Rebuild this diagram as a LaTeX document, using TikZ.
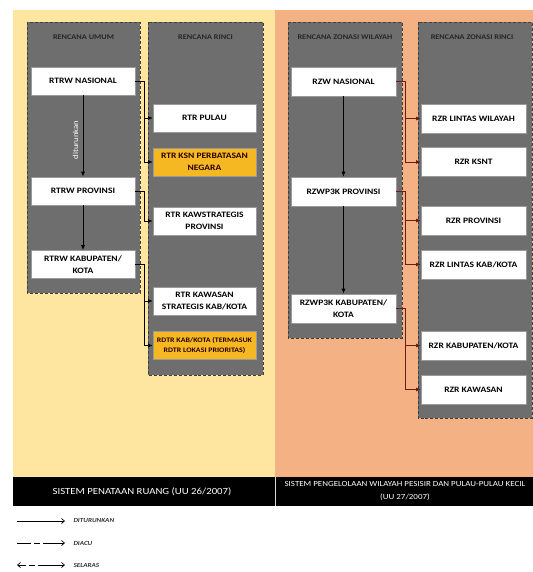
\documentclass[tikz,border=0pt]{standalone}
\usepackage{fontspec}
\setmainfont[FakeStretch=1.15]{Carlito}
\usetikzlibrary{arrows.meta}

\definecolor{bgyellow}{HTML}{FFE6A0}
\definecolor{bgorange}{HTML}{F4B183}
\definecolor{panelgray}{HTML}{6E6E6E}
\definecolor{paneledge}{HTML}{3F3F3F}
\definecolor{goldbox}{HTML}{F5B823}
\definecolor{linkred}{HTML}{6B1F12}
\definecolor{boxedge}{HTML}{9A9A9A}

\tikzset{
  panel/.style={fill=panelgray, draw=paneledge, densely dashed, line width=0.8pt},
  colhead/.style={font=\fontsize{7.2}{8}\selectfont\bfseries, text=black!85, align=center},
  plan/.style={rectangle, fill=white, draw=boxedge, line width=0.6pt, align=center,
    inner sep=1pt, font=\fontsize{8.3}{12}\selectfont\bfseries, text=black},
  planA/.style={plan, minimum width=104bp, minimum height=28bp},
  planB/.style={plan, minimum width=103bp, minimum height=28bp},
  planC/.style={plan, minimum width=105bp, minimum height=29bp},
  goldplan/.style={fill=goldbox, text=black!85!red},
  down/.style={draw=black, line width=0.8pt, -{Latex[length=5pt,width=4pt]}},
  linkblack/.style={draw=black, line width=0.7pt, -{Latex[length=4.5pt,width=4pt]}},
  linkdark/.style={draw=linkred, line width=0.8pt, -{Latex[length=4.5pt,width=4pt]}},
  legendline/.style={draw=black, line width=0.7pt},
  legendtext/.style={anchor=west, font=\fontsize{6.2}{7}\selectfont\itshape\bfseries, text=black!80},
  foottext/.style={text=white, align=center}
}

\begin{document}
\begin{tikzpicture}[x=1bp, y=-1bp]
  \useasboundingbox (0,0) rectangle (533,572);
  \fill[white] (0,0) rectangle (533,572);

  % two background areas
  \fill[bgyellow] (13,10) rectangle (275,477);
  \fill[bgorange] (275,10) rectangle (533,477);

  % grey column panels
  \draw[panel] (27,22) rectangle (140,293);
  \draw[panel] (148,22) rectangle (263,375);
  \draw[panel] (288,22) rectangle (402,338);
  \draw[panel] (418,22) rectangle (532,418);

  % column headings
  \node[colhead] (hUmum) at (83.5,37.5) {RENCANA UMUM};
  \node[colhead] (hRinci) at (205.5,37.5) {RENCANA RINCI};
  \node[colhead] (hZW) at (345,37.5) {RENCANA ZONASI WILAYAH};
  \node[colhead] (hZR) at (472,37.5) {RENCANA ZONASI RINCI};

  % spatial planning: general plans
  \node[planA] (rtrwN) at (83,81) {RTRW NASIONAL};
  \node[planA] (rtrwP) at (83,191) {RTRW PROVINSI};
  \node[planA] (rtrwK) at (83,264.5) {RTRW KABUPATEN/\\KOTA};

  % spatial planning: detailed plans
  \node[planB] (rtrP) at (204.5,118) {RTR PULAU};
  \node[planB, goldplan] (rtrKSN) at (204.5,162) {RTR KSN PERBATASAN\\NEGARA};
  \node[planB] (rtrKSP) at (204.5,221) {RTR KAWSTRATEGIS\\PROVINSI};
  \node[planB] (rtrKSK) at (204.5,301) {RTR KAWASAN\\STRATEGIS KAB/KOTA};
  \node[planB, goldplan, font=\fontsize{6.9}{9.5}\selectfont\bfseries] (rdtr) at (204.5,345.5)
    {RDTR KAB/KOTA (TERMASUK\\RDTR LOKASI PRIORITAS)};

  % coastal zoning: regional plans
  \node[planC] (rzwN) at (343.5,81.5) {RZW NASIONAL};
  \node[planC] (rzwP) at (343.5,191.5) {RZWP3K PROVINSI};
  \node[planC] (rzwK) at (343.5,308.5) {RZWP3K KABUPATEN/\\KOTA};

  % coastal zoning: detailed plans
  \node[planC] (rzrLW) at (473.5,118.5) {RZR LINTAS WILAYAH};
  \node[planC] (rzrKSNT) at (473.5,162) {RZR KSNT};
  \node[planC] (rzrP) at (473.5,220.5) {RZR PROVINSI};
  \node[planC] (rzrLK) at (473.5,264.5) {RZR LINTAS KAB/KOTA};
  \node[planC] (rzrK) at (473.5,345.5) {RZR KABUPATEN/KOTA};
  \node[planC] (rzrKw) at (473.5,389.5) {RZR KAWASAN};

  % hierarchy arrows inside the general columns
  \draw[down] (rtrwN.south) -- (rtrwP.north)
    node[pos=0.55, left=1bp, rotate=90, anchor=south, text=white,
         font=\fontsize{7.6}{8}\selectfont] (vlabel) {diturunkan};
  \draw[down] (rtrwP.south) -- (rtrwK.north);
  \draw[down] (rzwN.south) -- (rzwP.north);
  \draw[down] (rzwP.south) -- (rzwK.north);

  % links from general to detailed spatial plans
  \draw[linkblack] (rtrwN.east) -- ++(9,0) |- (rtrP.west);
  \draw[linkblack] (rtrwN.east) -- ++(9,0) |- (rtrKSN.west);
  \draw[linkblack] (rtrwP.east) -- ++(9,0) |- (rtrKSP.west);
  \draw[linkblack] (rtrwK.east) -- ++(9,0) |- (rtrKSK.west);
  \draw[linkblack] (rtrwK.east) -- ++(9,0) |- (rdtr.west);

  % links from regional to detailed zoning plans
  \draw[linkdark] (rzwN.east) -- ++(9,0) |- (rzrLW.west);
  \draw[linkdark] (rzwN.east) -- ++(9,0) |- (rzrKSNT.west);
  \draw[linkdark] (rzwP.east) -- ++(9,0) |- (rzrP.west);
  \draw[linkdark] (rzwP.east) -- ++(9,0) |- (rzrLK.west);
  \draw[linkdark] (rzwK.east) -- ++(9,0) |- (rzrK.west);
  \draw[linkdark] (rzwK.east) -- ++(9,0) |- (rzrKw.west);

  % footer bar with the two legal frameworks
  \fill[black] (13,477) rectangle (533,506);
  \draw[white!85!black, line width=0.8pt] (275,477) -- (275,506);
  \node[foottext, font=\fontsize{9.4}{11}\selectfont] (fLeft) at (142,491.5)
    {SISTEM PENATAAN RUANG (UU 26/2007)};
  \node[foottext, font=\fontsize{7.8}{13}\selectfont] (fRight) at (405,491)
    {SISTEM PENGELOLAAN WILAYAH PESISIR DAN PULAU-PULAU KECIL\\(UU 27/2007)};

  % legend
  \coordinate (l1a) at (17,521); \coordinate (l1b) at (65,521);
  \coordinate (l2a) at (17,543); \coordinate (l2b) at (65,543);
  \coordinate (l3a) at (17,565); \coordinate (l3b) at (65,565);
  \draw[legendline, -{Straight Barb[length=3pt,width=5pt]}] (l1a) -- (l1b);
  \draw[legendline, dash pattern=on 14bp off 3bp on 6bp off 3bp on 30bp,
        -{Straight Barb[length=3pt,width=5pt]}] (l2a) -- (l2b);
  \draw[legendline, dash pattern=on 8bp off 3bp on 6bp off 3bp on 30bp,
        {Straight Barb[length=3pt,width=5pt]}-{Straight Barb[length=3pt,width=5pt]}] (l3a) -- (l3b);
  \node[legendtext] (t1) at (70,521) {DITURUNKAN};
  \node[legendtext] (t2) at (70,543) {DIACU};
  \node[legendtext] (t3) at (70,565) {SELARAS};
\end{tikzpicture}
\end{document}
